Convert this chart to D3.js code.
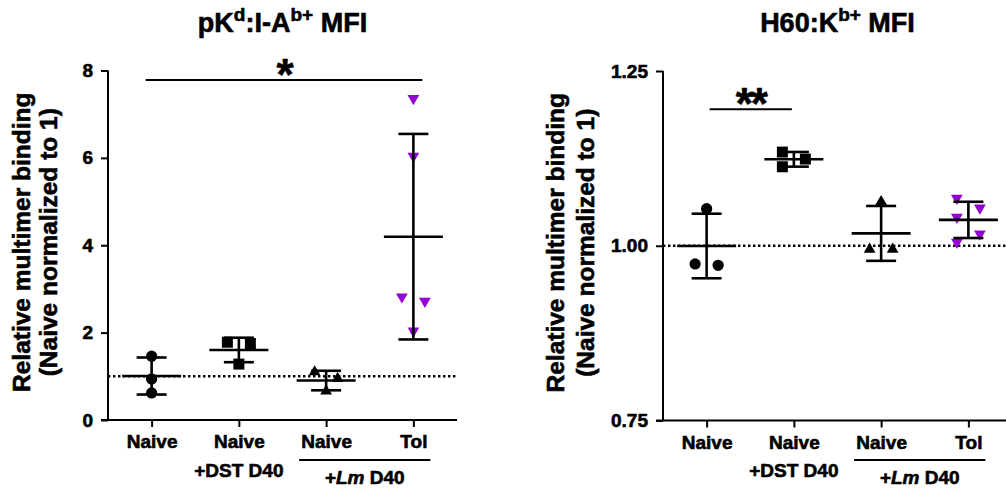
<!DOCTYPE html>
<html>
<head>
<meta charset="utf-8">
<script src="https://cdn.jsdelivr.net/npm/d3@7"></script>
<style>
  body { margin: 0; background: #fff; }
  svg { display: block; font-family: "Liberation Sans", Arial, sans-serif; font-weight: bold; }
  svg text { stroke: #000; stroke-width: 0.6px; }
</style>
</head>
<body>
<svg id="chart" width="1006" height="488"></svg>
<script>
// groups on the x axis
var categories = ["Naive", "Naive", "Naive", "Tol"];
var subLabels = ["", "+DST D40", "", ""];

// pKd:I-Ab+ MFI, one array per group
var pkdNaive = [1.46, 0.94, 0.62];
var pkdDst = [1.78, 1.75, 1.28];
var pkdLmNaive = [1.10, 0.95, 0.66];
var pkdLmTol = [7.36, 6.04, 2.82, 2.72, 2.04];
var pkdTicks = [0, 2, 4, 6, 8];

// H60:Kb+ MFI
var h60Naive = [1.053, 0.974, 0.972];
var h60Dst = [1.134, 1.124, 1.113];
var h60LmNaive = [1.063, 0.995, 0.995];
var h60LmTol = [1.068, 1.054, 1.041, 1.017, 1.005];
var h60Ticks = [0.75, 1.00, 1.25];

var shapes = ["circle", "square", "triangle", "triangleDown"];
var colours = ["#000", "#000", "#000", "#9400d3"];

var svg = d3.select("#chart");

////////////////////////////////////////

function drawPanel(p)
{
    var g = svg.append("g");

    var x = d3.scalePoint().domain(d3.range(categories.length))
        .range([p.left, p.left + 349]).padding(0.5);
    var y = d3.scaleLinear().domain(p.domain).range([p.bottom, p.top]);

    // title with superscripts
    var t = g.append("text")
        .attr("x", p.left + 349 / 2)
        .attr("y", 32)
        .attr("text-anchor", "middle")
        .style("font-size", "27px");
    p.title.forEach(function (part) {
        t.append("tspan")
            .attr("dy", part[1] ? -11 : (part[2] ? 11 : 0))
            .style("font-size", part[1] ? "19px" : "27px")
            .text(part[0]);
    });

    // y label, two lines
    ["Relative multimer binding", "(Naive normalized to 1)"].forEach(function (s, i) {
        g.append("text")
            .attr("transform", "translate(" + p.labelX[i] + "," + ((p.top + p.bottom) / 2 - 3) + ") rotate(-90)")
            .attr("text-anchor", "middle")
            .style("font-size", "24.5px")
            .text(s);
    });

    // axes
    var yAxis = g.append("g")
        .attr("transform", "translate(" + p.left + ",0)")
        .call(d3.axisLeft(y).tickValues(p.ticks).tickFormat(p.fmt).tickSize(7).tickPadding(8));
    var xAxis = g.append("g")
        .attr("transform", "translate(0," + p.bottom + ")")
        .call(d3.axisBottom(x).tickFormat(function (i) { return categories[i]; }).tickSize(7).tickPadding(8));
    xAxis.select(".domain").attr("d", "M" + (p.left - 7) + ",0H" + (p.left + 349));
    yAxis.select(".domain").attr("d", "M0," + p.bottom + "V" + p.top);
    [xAxis, yAxis].forEach(function (a) {
        a.selectAll("path, line").attr("stroke", "#000").attr("stroke-width", 2);
        a.selectAll("text").attr("fill", "#000").style("font-size", "19px")
            .style("font-family", "Liberation Sans, Arial, sans-serif").style("font-weight", "bold");
    });

    // second row labels
    subLabels.forEach(function (s, i) {
        if (s) g.append("text").attr("x", x(i)).attr("y", 477)
            .attr("text-anchor", "middle").style("font-size", "19px").text(s);
    });
    g.append("line")
        .attr("x1", x(2) - 27).attr("x2", x(3) + 17)
        .attr("y1", 460).attr("y2", 460)
        .attr("stroke", "#000").attr("stroke-width", 2);
    var lm = g.append("text").attr("x", (x(2) + x(3)) / 2 - 5).attr("y", 484)
        .attr("text-anchor", "middle").style("font-size", "19px");
    lm.append("tspan").text("+");
    lm.append("tspan").style("font-style", "italic").text("Lm");
    lm.append("tspan").text(" D40");

    // reference line at 1
    g.append("line")
        .attr("x1", p.left).attr("x2", p.left + 349)
        .attr("y1", y(1)).attr("y2", y(1))
        .attr("stroke", "#000").attr("stroke-width", 2.6)
        .attr("stroke-dasharray", "2.4,2.6");

    // significance bar
    g.append("line")
        .attr("x1", x(p.sig.from) - p.sig.pad[0]).attr("x2", x(p.sig.to) + p.sig.pad[1])
        .attr("y1", y(p.sig.value)).attr("y2", y(p.sig.value))
        .attr("stroke", "#000").attr("stroke-width", 2);
    g.append("text")
        .attr("x", (x(p.sig.from) - p.sig.pad[0] + x(p.sig.to) + p.sig.pad[1]) / 2)
        .attr("y", y(p.sig.value) + 10)
        .attr("text-anchor", "middle")
        .style("font-size", "44px")
        .style("letter-spacing", "-2px")
        .text(p.sig.label);

    // points, mean and SD
    p.data.forEach(function (vals, gi) {
        var cx = x(gi);
        var m = d3.mean(vals), sd = d3.deviation(vals);

        // spread points that overlap vertically, alternating sides
        var order = vals.map(function (v, i) { return i; })
            .sort(function (a, b) { return vals[b] - vals[a]; });
        var offs = vals.map(function () { return 0; });
        var side = -1;
        var clusters = [];
        order.forEach(function (i, k) {
            if (k > 0 && Math.abs(y(vals[i]) - y(vals[order[k - 1]])) < 11)
                clusters[clusters.length - 1].push(i);
            else
                clusters.push([i]);
        });
        clusters.forEach(function (c) {
            if (c.length < 2) return;
            c.forEach(function (i) { offs[i] = side * 11.5; side = -side; });
        });

        var sym = d3.symbol();
        var shape = shapes[gi];
        if (shape === "circle") sym.type(d3.symbolCircle).size(100);
        else if (shape === "square") sym.type(d3.symbolSquare).size(121);
        else sym.type(d3.symbolTriangle).size(60);

        g.selectAll(null).data(vals).enter().append("path")
            .attr("d", sym)
            .attr("fill", colours[gi])
            .attr("transform", function (v, i) {
                return "translate(" + (cx + offs[i]) + "," + y(v) + ")" + (shape === "triangleDown" ? " rotate(180)" : "");
            });

        var lines = [
            [cx - 29.5, cx + 29.5, y(m), y(m)],
            [cx - 15, cx + 15, y(m + sd), y(m + sd)],
            [cx - 15, cx + 15, y(m - sd), y(m - sd)],
            [cx, cx, y(m + sd), y(m - sd)]
        ];
        g.selectAll(null).data(lines).enter().append("line")
            .attr("x1", function (d) { return d[0]; })
            .attr("x2", function (d) { return d[1]; })
            .attr("y1", function (d) { return d[2]; })
            .attr("y2", function (d) { return d[3]; })
            .attr("stroke", "#000").attr("stroke-width", 2.6);
    });
}

////////////////////////////////////////

drawPanel({
    left: 108, top: 70.5, bottom: 420,
    domain: [0, 8], ticks: pkdTicks, fmt: d3.format("d"),
    title: [["pK"], ["d", true], [":I-A", false, true], ["b+", true], [" MFI", false, true]],
    labelX: [30, 57],
    data: [pkdNaive, pkdDst, pkdLmNaive, pkdLmTol],
    sig: { from: 0, to: 3, value: 7.78, label: "*", pad: [6, 9] }
});

drawPanel({
    left: 663, top: 71, bottom: 420.5,
    domain: [0.75, 1.25], ticks: h60Ticks, fmt: d3.format(".2f"),
    title: [["H60:K"], ["b+", true], [" MFI", false, true]],
    labelX: [564, 594],
    data: [h60Naive, h60Dst, h60LmNaive, h60LmTol],
    sig: { from: 0, to: 1, value: 1.1953, label: "**", pad: [-3, -2] }
});
</script>
</body>
</html>
